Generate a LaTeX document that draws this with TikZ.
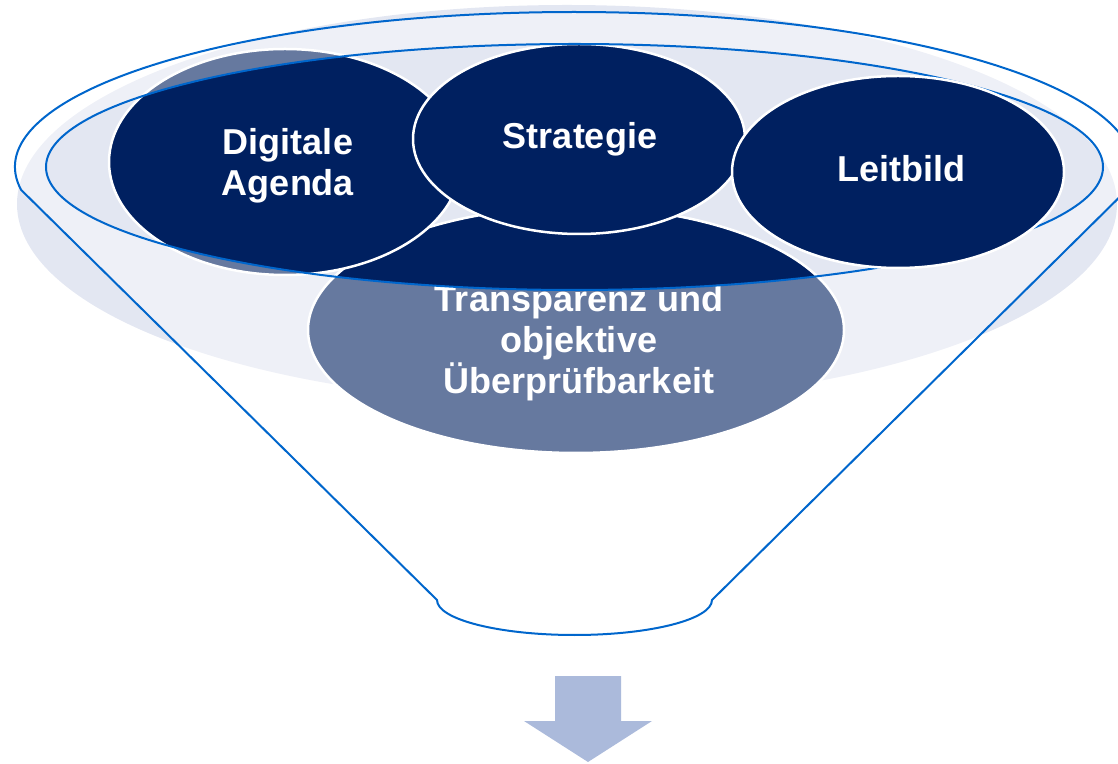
\documentclass[tikz,border=0pt]{standalone}
\usepackage{fontspec}
\setmainfont{Liberation Sans}
\usetikzlibrary{shapes.geometric}
\definecolor{navy}{HTML}{002060}
\definecolor{bgfill}{RGB}{227,231,242}
\definecolor{funnelblue}{HTML}{0066CC}
\definecolor{arrowfill}{RGB}{171,186,219}
\begin{document}
\begin{tikzpicture}[x=1pt,y=1pt,
  bubble/.style={ellipse, fill=navy, draw=white, line width=2.5pt, inner sep=0pt},
  lbl/.style={text=white, align=center, inner sep=0pt,
    font=\fontsize{36}{41}\selectfont\bfseries},
  rim/.style={draw=funnelblue, line width=2pt}]
\useasboundingbox (0,0) rectangle (1118,763);
\clip (0,0) rectangle (1118,763);
% background ellipse
\fill[bgfill] (567,559) ellipse[x radius=550pt, y radius=199pt];
% bubbles under the funnel
\node[bubble, minimum width=536pt, minimum height=246pt] (transp) at (576,433) {};
\node[lbl] (transpText) at (579,420) {Transparenz und\\objektive\\Überprüfbarkeit};
\node[bubble, minimum width=352pt, minimum height=226pt] (digital) at (285,601) {};
\node[lbl] (digitalText) at (288,597) {Digitale\\Agenda};
\node[bubble, minimum width=332pt, minimum height=190pt] (strat) at (579,624) {};
\node[lbl] (stratText) at (580,624) {Strategie};
% funnel body
\fill[white, fill opacity=0.4, even odd rule]
  (21.14,573.09) arc[start angle=188.5, end angle=-8.5, x radius=559pt, y radius=155pt]
  -- (712,163) arc[start angle=0, end angle=-180, x radius=137.5pt, y radius=35pt]
  -- cycle
  (574.5,596) ellipse[x radius=528.5pt, y radius=123pt];
\draw[rim, line join=round]
  (21.14,573.09) arc[start angle=188.5, end angle=-8.5, x radius=559pt, y radius=155pt]
  -- (712,163) arc[start angle=0, end angle=-180, x radius=137.5pt, y radius=35pt]
  -- cycle;
\draw[rim] (574.5,596) ellipse[x radius=528.5pt, y radius=123pt];
% bubble above the funnel
\node[bubble, minimum width=332pt, minimum height=192pt] (leit) at (898,591) {};
\node[lbl] (leitText) at (901,594) {Leitbild};
% arrow
\fill[arrowfill] (555,87) -- (621,87) -- (621,42) -- (652,42) -- (588,1)
  -- (524,42) -- (555,42) -- cycle;
\end{tikzpicture}
\end{document}
